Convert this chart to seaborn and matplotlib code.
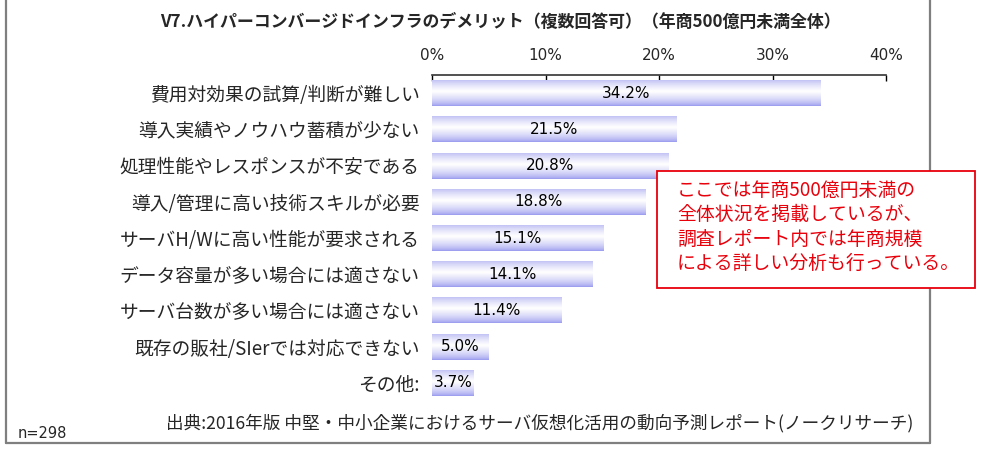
import numpy as np, pandas as pd
import matplotlib as mpl; mpl.use("Agg")
import matplotlib.pyplot as plt
from matplotlib.colors import LinearSegmentedColormap
from matplotlib.lines import Line2D
from matplotlib.patches import Rectangle
import seaborn as sns

LABELS=["費用対効果の試算/判断が難しい","導入実績やノウハウ蓄積が少ない","処理性能やレスポンスが不安である",
        "導入/管理に高い技術スキルが必要","サーバH/Wに高い性能が要求される","データ容量が多い場合には適さない",
        "サーバ台数が多い場合には適さない","既存の販社/SIerでは対応できない","その他:"]
VALUES=[34.2,21.5,20.8,18.8,15.1,14.1,11.4,5.0,3.7]
XTICKS=[0,10,20,30,40]
TITLE="V7.ハイパーコンバージドインフラのデメリット（複数回答可）（年商500億円未満全体）"
NOTE="ここでは年商500億円未満の\n全体状況を掲載しているが、\n調査レポート内では年商規模\nによる詳しい分析も行っている。"
SOURCE="出典:2016年版 中堅・中小企業におけるサーバ仮想化活用の動向予測レポート(ノークリサーチ)"
N_TEXT="n=298"

sns.set_theme(style="white")
plt.rcParams["font.family"]=["Noto Sans CJK JP","DejaVu Sans"]
EDGE="#9494ee"
grad=LinearSegmentedColormap.from_list("bar",[EDGE,"#ffffff"])

df=pd.DataFrame({"label":LABELS,"value":VALUES})
fig=plt.figure(figsize=(9.84,4.5),dpi=100)
ax=fig.add_axes([432/984,1-401/450,454/984,326/450])
sns.barplot(data=df,x="value",y="label",orient="h",color=EDGE,width=0.72,ax=ax)

# vertical gradient: lavender edges, white band a little above centre
t=np.linspace(0,1,128)
prof=np.clip(1-np.abs(t-0.45)/0.55,0,1)**0.6
img=prof[:,None]*np.ones((1,2))
for p,v in zip(ax.patches,VALUES):
    x0,y0,w,h=p.get_x(),p.get_y(),p.get_width(),p.get_height()
    im=ax.imshow(img,cmap=grad,vmin=0,vmax=1,aspect="auto",origin="upper",
                 extent=(x0,x0+w,y0+h,y0),zorder=2,interpolation="bilinear")
    im.set_clip_path(p)
    p.set_facecolor("none"); p.set_edgecolor("none")
    ax.text(x0+w/2,y0+h/2,f"{v:.1f}%",ha="center",va="center",fontsize=11,
            family="DejaVu Sans",color="black",zorder=3)

ax.set_xlim(0,40); ax.set_ylim(8.5,-0.5)
ax.set_xticks(XTICKS); ax.set_xticklabels([f"{x}%" for x in XTICKS],family="DejaVu Sans")
ax.xaxis.tick_top()
ax.tick_params(axis="x",direction="in",length=4,width=1,color="black",pad=9,labelsize=11)
ax.tick_params(axis="y",length=0,pad=9,labelsize=13.5)
ax.set_xlabel(""); ax.set_ylabel("")
for s in ("bottom","left","right"): ax.spines[s].set_visible(False)
ax.spines["top"].set_color("#333333"); ax.spines["top"].set_linewidth(1.2)
ax.grid(False)

# outer frame
W,H=984,450
for xs,ys in [((6,6),(0,443)),((930,930),(0,443)),((6,930),(443,443))]:
    fig.add_artist(Line2D([x/W for x in xs],[1-y/H for y in ys],color="#7f7f7f",lw=1.6,zorder=1))

fig.text(500/W,1-22/H,TITLE,ha="center",va="center",fontsize=12.2,fontweight="bold")
fig.add_artist(Rectangle((657/W,1-288/H),(975-657)/W,(288-171)/H,transform=fig.transFigure,
                         facecolor="white",edgecolor="#e8000b",lw=1.3,zorder=5))
fig.text(677/W,1-227/H,NOTE,ha="left",va="center",fontsize=13.6,color="#e8000b",
         linespacing=1.22,zorder=6)
fig.text(166/W,1-423/H,SOURCE,ha="left",va="center",fontsize=12.7)
fig.text(18/W,1-433/H,N_TEXT,ha="left",va="center",fontsize=10.5,family="DejaVu Sans")

fig.savefig("out.png",dpi=100)
